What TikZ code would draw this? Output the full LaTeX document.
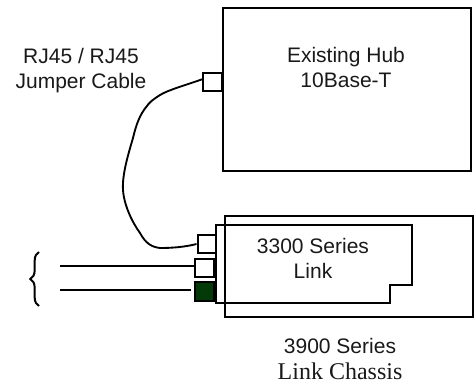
\documentclass[tikz,border=0pt]{standalone}
\usepackage{fontspec}
\setmainfont{Liberation Sans}
\newfontfamily\serifcaption{Liberation Serif}
\usetikzlibrary{positioning, decorations.pathreplacing}
\definecolor{portgreen}{HTML}{033A08}

\begin{document}
\begin{tikzpicture}[
      x=0.75pt,
      y=-0.75pt,
      unit/.style={draw=black, line width=1.5pt},
      port/.style={draw=black, fill=white, line width=1.5pt, minimum size=14.2pt, inner sep=0pt},
      caption/.style={font=\fontsize{15.75}{18.75}\selectfont, align=center, text=black!90},
      cable/.style={line width=1.4pt, line join=round},
      wire/.style={line width=1.5pt}
    ]
    \useasboundingbox (0,0) rectangle (475,383);
    % boxes
    \draw [unit] (222.5,8) rectangle (470.5,171);
    \draw [unit] (224.7,216) rectangle (472.7,316.7);
    \draw [unit] (216,225) -- (412,225) -- (412,285) -- (390,285) -- (390,303) -- (216,303) -- cycle;

    % ports
    \node(hubport)[port] at (212.5,82) {};
    \node(linkport)[port] at (207,244) {};
    \node(lineport)[port] at (204.8,268) {};
    \node(greenport)[port, fill=portgreen] at (204.8,291.7) {};

    \coordinate (upperend) at (60,266);
    \coordinate (lowerend) at (60,290);
    \coordinate (lowerstop) at (191,290);
    \coordinate (bracetop) at (39,252);
    \coordinate (bracebottom) at (39,306);

    % cables
    \draw [cable] ([yshift=2pt]hubport.west) .. controls (186,85) and (168,90) .. (160,95)
       .. controls (152,100) and (148,104) .. (147,106)
       .. controls (140,114) and (136,125) .. (133,138)
       .. controls (128,155) and (122,175) .. (123,190)
       .. controls (124,205) and (132,222) .. (140,233)
       .. controls (146,244) and (152,247) .. (160,248)
       .. controls (172,248) and (185,247) .. (linkport.west);
    \draw [wire] (upperend) -- (upperend -| lineport.west);
    \draw [wire] (lowerend) -- (lowerstop);
    \draw [line width=1.5pt, decorate, decoration={brace, amplitude=6.5pt}] (bracebottom) -- (bracetop);

    % labels
    \node(jumper)[caption] at (81,71) {RJ45 / RJ45\\Jumper Cable};
    \node(hub)[caption] at (346,67) {Existing Hub\\10Base-T};
    \node(link)[caption] at (313,258) {3300 Series\\Link};
    \node(chassis)[caption] at (340,359) {3900 Series\\[1pt]{\serifcaption\fontsize{18}{18}\selectfont Link Chassis}};
    \end{tikzpicture}
\end{document}
